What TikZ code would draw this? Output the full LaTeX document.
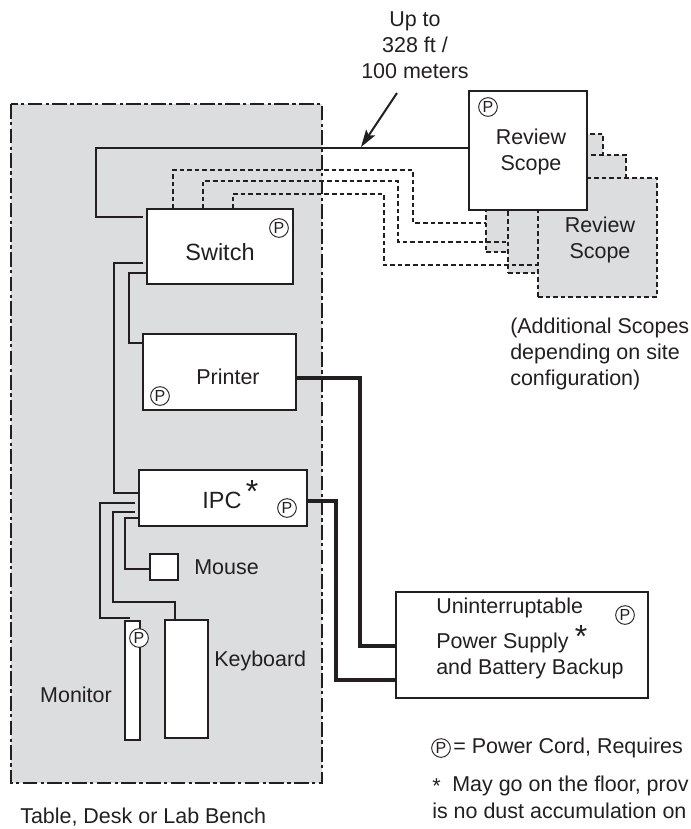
\documentclass[tikz,border=0pt]{standalone}
\usepackage{fontspec}
\setmainfont{Liberation Sans}
\usetikzlibrary{positioning, arrows.meta, fit}
\definecolor{benchgray}{HTML}{DCDDDE}
\definecolor{inkgray}{HTML}{231F20}
\tikzset{
  box/.style={draw=inkgray, fill=white, line width=1.7pt, inner sep=0pt},
  spare/.style={draw=inkgray, fill=benchgray, line width=1.3pt, dash pattern=on 3.5pt off 2.2pt, inner sep=0pt},
  wire/.style={draw=inkgray, line width=1.5pt},
  dashwire/.style={draw=inkgray, line width=1.3pt, dash pattern=on 3.5pt off 2.2pt},
  power/.style={draw=inkgray, line width=3.2pt},
  tag/.style={text=inkgray, font=\fontsize{16.1}{19.5}\selectfont, inner sep=0pt},
  bigtag/.style={text=inkgray, font=\fontsize{17.6}{19.5}\selectfont, inner sep=0pt},
  pcord/.style={circle, draw=inkgray, fill=white, line width=0.7pt, minimum size=14pt, inner sep=0pt,
    text=inkgray, font=\fontsize{12}{12}\selectfont},
  star/.style={text=inkgray, font=\fontsize{24}{24}\selectfont, inner sep=0pt}
}
\begin{document}
\begin{tikzpicture}[x=0.75pt, y=-0.75pt, >=Stealth]
    \useasboundingbox (0,0) rectangle (691,829);

    % --- bench area ---
    \fill[benchgray] (11,104) rectangle (322,783);
    \draw[inkgray, line width=0.9pt, dash pattern=on 11pt off 2.5pt on 2.5pt off 2.5pt] (11,104) rectangle (322,783);

    % --- spare scopes behind the main one ---
    \node[spare, fit={(486,134) (603,252)}] (scopeA) {};
    \node[spare, fit={(508,155) (626,273)}] (scopeB) {};
    \node[spare, fit={(538,178) (657,297)}] (scopeC) {};
    \node[tag, align=center] (scopeClabel) at (600,240) {Review\\Scope};

    % --- boxes ---
    \node[box, fit={(469,91) (587,210)}] (review) {};
    \node[box, fit={(147,209) (293,284)}] (switch) {};
    \node[box, fit={(143,334) (296,410)}] (printer) {};
    \node[box, fit={(139,470) (307,526)}] (ipc) {};
    \node[box, fit={(150,554) (178,580)}] (mouse) {};
    \node[box, fit={(125,621) (140,740)}] (monitor) {};
    \node[box, fit={(165,620) (208,738)}] (keyboard) {};
    \node[box, fit={(396,592) (648,698)}] (ups) {};

    % --- wire ends on the boxes ---
    \coordinate (swNet) at (143,217);
    \coordinate (revNet) at (469,148);
    \coordinate (swIpc) at (143,263);
    \coordinate (swPrn) at (147,273);
    \coordinate (prnSw) at (143,343);
    \coordinate (ipcSw) at (139,493);
    \coordinate (ipcMon) at (135,503);
    \coordinate (ipcKey) at (135,512);
    \coordinate (ipcMou) at (139,518);
    \coordinate (monTop) at (130,618);
    \coordinate (keyTop) at (175,620);
    \coordinate (prnOut) at (296,378);
    \coordinate (ipcOut) at (307,501);
    \coordinate (upsA) at (396,646);
    \coordinate (upsB) at (396,680);
    \coordinate (arrowTail) at (397,93);
    \coordinate (arrowTip) at (361,147);

    % --- solid wires ---
    \draw[wire] (swNet) -- (96,217) -- (96,148) -- (revNet);
    \draw[wire] (swIpc) -- (114,263) -- (114,493) -- (ipcSw);
    \draw[wire] (swPrn) -- (129,273) -- (129,343) -- (prnSw);
    \draw[wire] (ipcMon) -- (100,503) -- (100,618) -- (monTop);
    \draw[wire] (ipcKey) -- (113,512) -- (113,602) -- (175,602) -- (keyTop);
    \draw[wire] (ipcMou) -- (125,518) -- (125,569) -- (150,569);

    % --- dashed wires to the spare scopes ---
    \coordinate (swDashA) at (173,209);
    \coordinate (swDashB) at (203,209);
    \coordinate (swDashC) at (233,209);
    \coordinate (scopeAin) at (486,223);
    \coordinate (scopeBin) at (508,242);
    \coordinate (scopeCin) at (538,265);
    \draw[dashwire] (swDashA) -- (173,170) -- (413,170) -- (413,223) -- (scopeAin);
    \draw[dashwire] (swDashB) -- (203,181) -- (398,181) -- (398,242) -- (scopeBin);
    \draw[dashwire] (swDashC) -- (233,194) -- (384,194) -- (384,265) -- (scopeCin);

    % --- power cables ---
    \draw[power] (prnOut) -- (360,378) -- (360,646) -- (upsA);
    \draw[power] (ipcOut) -- (336,501) -- (336,680) -- (upsB);

    % --- distance arrow ---
    \draw[->, inkgray, line width=1.5pt, >={Stealth[length=13pt,width=8pt,inset=2.5pt]}] (arrowTail) -- (arrowTip);
    \node[tag, align=center] (distance) at (415,45) {Up to\\328 ft /\\100 meters};

    % --- labels ---
    \node[tag, align=center] (reviewlabel) at (531,152) {Review\\Scope};
    \node[bigtag] (switchlabel) at (220,252) {Switch};
    \node[tag] (printerlabel) at (228,377) {Printer};
    \node[bigtag] (ipclabel) at (222,500) {IPC};
    \node[star] (ipcstar) at (252,491) {*};
    \node[tag, anchor=west] (mouselabel) at (194,567) {Mouse};
    \node[tag, anchor=west] (keyboardlabel) at (214,661) {Keyboard};
    \node[tag] (monitorlabel) at (76,695) {Monitor};
    \node[tag, anchor=west] (benchlabel) at (20,817) {Table, Desk or Lab Bench};
    \node[tag, anchor=west, align=left] (extralabel) at (510,354) {(Additional Scopes\\depending on site\\configuration)};
    \node[tag, anchor=west] (upsone) at (436,608) {Uninterruptable};
    \node[tag, anchor=west] (upstwo) at (436,643) {Power Supply};
    \node[tag, anchor=west] (upsthree) at (436,669) {and Battery Backup};
    \node[star] (upsstar) at (581,636) {*};

    % --- power cord marks ---
    \node[pcord] (pswitch) at (279,228) {P};
    \node[pcord] (preview) at (488,107) {P};
    \node[pcord] (pprinter) at (160,396) {P};
    \node[pcord] (pipc) at (287,508) {P};
    \node[pcord] (pmonitor) at (139,638) {P};
    \node[pcord] (pups) at (625,615) {P};

    % --- key ---
    \node[pcord] (pkey) at (441,748) {P};
    \node[tag, anchor=west] (keyone) at (453,748) {= Power Cord, Requires};
    \node[tag, anchor=west] (keystar) at (432,786) {*};
    \node[tag, anchor=west] (keytwo) at (452,786) {May go on the floor, prov};
    \node[tag, anchor=west] (keythree) at (432,811) {is no dust accumulation on};

\end{tikzpicture}
\end{document}
